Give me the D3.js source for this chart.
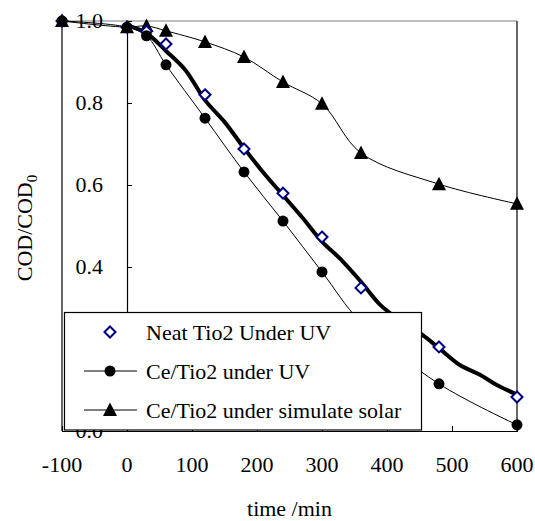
<!DOCTYPE html>
<html>
<head>
<meta charset="utf-8">
<script src="https://cdnjs.cloudflare.com/ajax/libs/d3/7.8.5/d3.min.js"></script>
<style>
  body { margin: 0; background: #fff; }
</style>
</head>
<body>
<svg width="535" height="521"></svg>
<script>
// sampling times (min)
var times = [-100, 0, 30, 60, 120, 180, 240, 300, 360, 480, 600];

// COD/COD0 for each series
var neatUV   = [1.0, 0.985, 0.975, 0.944, 0.82, 0.688, 0.58, 0.473, 0.349, 0.205, 0.083];
var ceUV     = [1.0, 0.985, 0.964, 0.893, 0.763, 0.632, 0.512, 0.388, 0.265, 0.115, 0.015];
var ceSolar  = [1.0, 0.985, 0.988, 0.976, 0.949, 0.912, 0.851, 0.798, 0.678, 0.602, 0.554];

// the heavy trend curve drawn through the Neat TiO2 points
var trendT = [0, 30, 60, 90, 120, 150, 180, 210, 240, 270, 300, 330, 360, 390, 420, 455, 480, 512, 543, 569, 594, 600];
var trendV = [0.99, 0.97, 0.927, 0.88, 0.807, 0.754, 0.69, 0.63, 0.575, 0.52, 0.462, 0.417, 0.364, 0.307, 0.27, 0.234, 0.202, 0.161, 0.137, 0.112, 0.093, 0.088];

var xTicks = [-100, 0, 100, 200, 300, 400, 500, 600];
var yTicks = [0, 0.2, 0.4, 0.6, 0.8, 1.0];
var legendLabels = ["Neat Tio2 Under UV", "Ce/Tio2 under UV", "Ce/Tio2 under simulate solar"];

var FONT = '"Liberation Serif", "Times New Roman", Tinos, "DejaVu Serif", serif';

var svg = d3.select('svg').attr('font-family', FONT);
var x = d3.scaleLinear().domain([-100, 600]).range([62, 517]);
var y = d3.scaleLinear().domain([0, 1]).range([431, 21]);

function pairs(ts, vs) { return ts.map(function(t, i) { return [t, vs[i]]; }); }

var line = d3.line()
    .x(function(d) { return x(d[0]); })
    .y(function(d) { return y(d[1]); })
    .curve(d3.curveCatmullRom);

// plot frame
svg.append('line').attr('x1', x(-100)).attr('x2', x(600)).attr('y1', y(1)).attr('y2', y(1))
    .attr('stroke', '#808080').attr('stroke-width', 1.2);
svg.append('line').attr('x1', x(-100)).attr('x2', x(-100)).attr('y1', y(1)).attr('y2', y(0))
    .attr('stroke', '#000').attr('stroke-width', 1.2);
svg.append('line').attr('x1', x(600)).attr('x2', x(600)).attr('y1', y(1)).attr('y2', y(0))
    .attr('stroke', '#000').attr('stroke-width', 1.2);

// y axis crossing at t = 0, ticks pointing right
var yAxis = d3.axisRight(y).tickValues(yTicks).tickSize(5).tickFormat('');
var yg = svg.append('g').attr('transform', 'translate(' + x(0) + ',0)').call(yAxis);
yg.select('.domain').attr('stroke', '#000').attr('stroke-width', 1.2);
yg.selectAll('.tick line').attr('stroke', '#000');

// x axis at bottom, ticks pointing up
var xAxis = d3.axisTop(x).tickValues(xTicks).tickSize(5).tickFormat('');
var xg = svg.append('g').attr('transform', 'translate(0,' + y(0) + ')').call(xAxis);
xg.select('.domain').attr('stroke', '#000').attr('stroke-width', 1.2);

// tick labels
svg.selectAll('.ylab').data(yTicks).enter().append('text')
    .attr('class', 'ylab')
    .attr('x', 103).attr('y', function(d) { return y(d); })
    .attr('dy', '0.33em')
    .attr('text-anchor', 'end')
    .style('font-family', FONT).style('font-size', '22px')
    .text(function(d) { return d3.format('.1f')(d); });

svg.selectAll('.xlab').data(xTicks).enter().append('text')
    .attr('class', 'xlab')
    .attr('x', function(d) { return x(d); }).attr('y', 472)
    .attr('text-anchor', 'middle')
    .style('font-family', FONT).style('font-size', '22px')
    .text(function(d) { return d; });

// axis titles
svg.append('text').attr('x', (x(-100) + x(600)) / 2).attr('y', 516)
    .attr('text-anchor', 'middle')
    .style('font-family', FONT).style('font-size', '22px').text('time /min');

var yt = svg.append('text')
    .attr('transform', 'translate(32,228) rotate(-90)')
    .attr('text-anchor', 'middle')
    .style('font-family', FONT).style('font-size', '22px');
yt.append('tspan').text('COD/COD');
yt.append('tspan').attr('dy', 5).style('font-size', '15px').text('0');

// lines
svg.append('path').datum(pairs(times, ceSolar)).attr('d', line)
    .attr('fill', 'none').attr('stroke', '#000').attr('stroke-width', 1);
svg.append('path').datum(pairs(times, ceUV)).attr('d', line)
    .attr('fill', 'none').attr('stroke', '#000').attr('stroke-width', 1);
svg.append('path').datum(pairs(trendT, trendV)).attr('d', line)
    .attr('fill', 'none').attr('stroke', '#000').attr('stroke-width', 4)
    .attr('stroke-linejoin', 'round');

// markers
var triPath = 'M0,-7.5L7,6L-7,6Z';
var diaPath = 'M0,-5.5L5.5,0L0,5.5L-5.5,0Z';

svg.selectAll('.tri').data(pairs(times, ceSolar)).enter().append('path')
    .attr('class', 'tri').attr('d', triPath)
    .attr('transform', function(d) { return 'translate(' + x(d[0]) + ',' + y(d[1]) + ')'; })
    .attr('fill', '#000');

svg.selectAll('.dia').data(pairs(times, neatUV)).enter().append('path')
    .attr('class', 'dia').attr('d', diaPath)
    .attr('transform', function(d) { return 'translate(' + x(d[0]) + ',' + y(d[1]) + ')'; })
    .attr('fill', '#fff').attr('stroke', '#000080').attr('stroke-width', 2);

svg.selectAll('.dot').data(pairs(times, ceUV)).enter().append('circle')
    .attr('class', 'dot')
    .attr('cx', function(d) { return x(d[0]); }).attr('cy', function(d) { return y(d[1]); })
    .attr('r', 5.5).attr('fill', '#000');

// legend
var lg = svg.append('g');
lg.append('rect').attr('x', 64.5).attr('y', 312.5).attr('width', 357).attr('height', 117.5)
    .attr('fill', '#fff').attr('stroke', '#000').attr('stroke-width', 1.2);
var rowY = [332, 371, 410];
lg.append('path').attr('d', diaPath).attr('transform', 'translate(110,' + rowY[0] + ')')
    .attr('fill', '#fff').attr('stroke', '#000080').attr('stroke-width', 2);
lg.append('line').attr('x1', 84).attr('x2', 137).attr('y1', rowY[1]).attr('y2', rowY[1]).attr('stroke', '#000');
lg.append('circle').attr('cx', 110).attr('cy', rowY[1]).attr('r', 5.5).attr('fill', '#000');
lg.append('line').attr('x1', 84).attr('x2', 137).attr('y1', rowY[2]).attr('y2', rowY[2]).attr('stroke', '#000');
lg.append('path').attr('d', triPath).attr('transform', 'translate(110,' + rowY[2] + ')').attr('fill', '#000');
lg.selectAll('.ltxt').data(legendLabels).enter().append('text')
    .attr('class', 'ltxt')
    .attr('x', 146).attr('y', function(d, i) { return rowY[i]; })
    .attr('dy', '0.35em')
    .style('font-family', FONT).style('font-size', '22px')
    .text(function(d) { return d; });
</script>
</body>
</html>
